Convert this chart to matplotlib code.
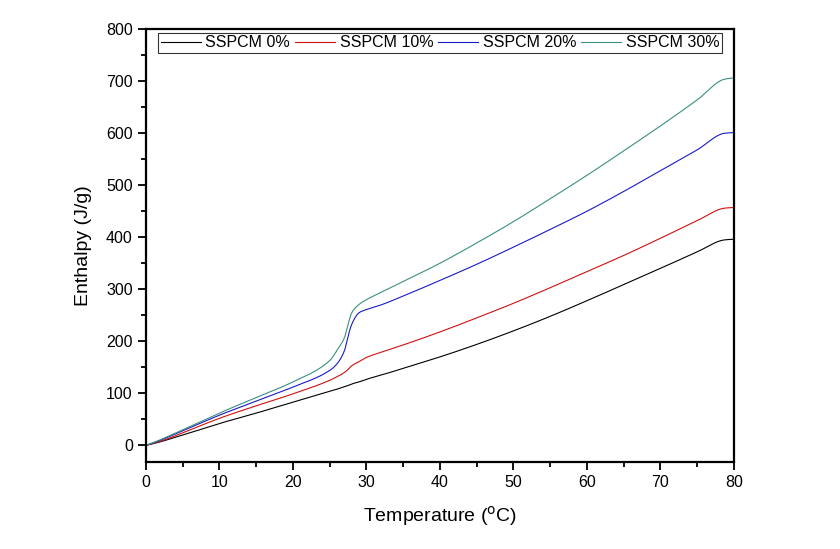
import matplotlib
matplotlib.use("Agg")
import matplotlib.pyplot as plt
from matplotlib.ticker import MultipleLocator
from scipy.interpolate import PchipInterpolator
import numpy as np

# temperature knots (°C) and enthalpy (J/g)
temp = [0, 2, 5, 10, 15, 20, 25, 26, 27, 27.5, 28, 29, 30, 32, 35, 40, 45, 50, 55, 60, 65, 70, 75, 78.8, 80]
h_0 = [0, 7, 20, 42, 62, 83, 104, 108, 113, 115, 118, 122, 127, 135, 148, 170, 194, 220, 248, 278, 309, 340, 372, 395, 396]
h_10 = [0, 8, 24, 52, 76, 99, 125, 132, 140, 146, 153, 161, 169, 179, 193, 218, 245, 273, 303, 334, 365, 398, 432, 456, 457]
h_20 = [0, 10, 28, 58, 85, 112, 144, 157, 182, 210, 233, 255, 261, 270, 287, 317, 348, 381, 415, 450, 488, 528, 568, 600, 601]
h_30 = [0, 11, 30, 62, 92, 122, 163, 183, 207, 233, 255, 271, 280, 294, 315, 350, 389, 430, 474, 519, 566, 614, 664, 704, 706]

labels = ["SSPCM 0%", "SSPCM 10%", "SSPCM 20%", "SSPCM 30%"]
colors = ["black", "#d01010", "#1a1ac8", "#3a9080"]

plt.rcParams["font.family"] = ["Liberation Sans", "DejaVu Sans"]

fig = plt.figure(figsize=(8.4, 5.49), dpi=100)
ax = fig.add_axes([0.1738, 0.1585, 0.7, 0.7885])

t = np.array(temp)
tt = np.linspace(0, 80, 400)
for h, lab, c in zip([h_0, h_10, h_20, h_30], labels, colors):
    f = PchipInterpolator(t, np.array(h))
    ax.plot(tt, f(tt), color=c, lw=0.8, label=lab)

ax.set_xlim(0, 80)
ax.set_ylim(-32, 800)
ax.xaxis.set_major_locator(MultipleLocator(10))
ax.xaxis.set_minor_locator(MultipleLocator(5))
ax.yaxis.set_major_locator(MultipleLocator(100))
ax.yaxis.set_minor_locator(MultipleLocator(50))
ax.tick_params(which="both", direction="out", top=False, right=False, labelsize=11.5, width=1.3)
ax.tick_params(which="major", length=6)
ax.tick_params(which="minor", length=3.5)
for s in ax.spines.values():
    s.set_linewidth(1.6)

ax.set_xlabel("Temperature ($^{\\mathrm{o}}$C)", fontsize=14, labelpad=10)
ax.set_ylabel("Enthalpy (J/g)", fontsize=14, labelpad=10)

leg = ax.legend(loc="upper center", ncol=4, fontsize=11.5, frameon=True, fancybox=False,
                edgecolor="black", borderpad=0.15, handlelength=2.5, handletextpad=0.3,
                columnspacing=0.3, bbox_to_anchor=(0.5, 1.0), borderaxespad=0.25)
leg.get_frame().set_linewidth(0.8)

fig.savefig("out.png", dpi=100)
